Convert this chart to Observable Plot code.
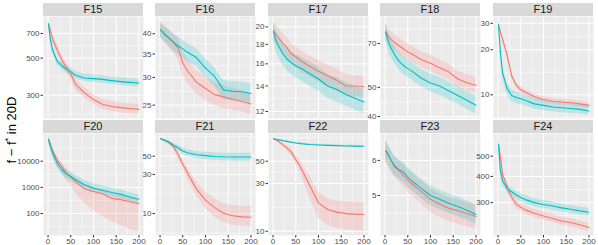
<!DOCTYPE html>
<html><head><meta charset="utf-8">
<script src="https://cdn.jsdelivr.net/npm/d3@7"></script>
<script src="https://cdn.jsdelivr.net/npm/@observablehq/plot@0.6"></script>
<style>
body{margin:0;background:#fff;}
#chart{position:relative;width:598px;height:245px;overflow:hidden;font-family:"Liberation Sans",Arial,sans-serif;background:#fff;}
.strip{position:absolute;background:#d9d9d9;color:#1a1a1a;font-size:11px;text-align:center;}
.ylab{position:absolute;left:11px;top:130px;transform:translate(-50%,-50%) rotate(-90deg);white-space:nowrap;font-size:13px;color:#000;}
.ylab sup{font-size:9px;}
svg{position:absolute;}
</style></head><body><div id="chart"><div class="ylab">f − f<sup>*</sup> in 20D</div></div>
<script>
const xs = [1,5,10,20,30,40,50,60,80,100,120,140,160,180,200];
const panelNames = ["F15","F16","F17","F18","F19","F20","F21","F22","F23","F24"];
const xTicks = [0,50,100,150,200];

const f15Ticks = [300,500,700], f15Domain = [218,885];
const f15Red   = [800,730,650,560,490,440,400,350,310,283,265,257,253,250,247];
const f15RedLo = [770,690,610,525,460,410,375,325,288,265,248,240,236,233,231];
const f15RedHi = [830,770,690,600,525,470,430,377,333,302,283,275,270,267,264];
const f15Cy    = [800,650,560,480,450,430,415,395,380,377,373,367,362,358,355];
const f15CyLo  = [770,615,530,455,428,408,395,376,362,358,354,349,344,340,336];
const f15CyHi  = [830,690,590,505,474,452,437,416,400,396,392,386,381,377,374];

const f16Ticks = [25,30,35,40], f16Domain = [22.9,44.8];
const f16Red   = [41.0,40.6,40.0,38.8,37.6,36.4,33.0,31.4,29.1,27.9,26.8,26.4,26.0,25.6,25.2];
const f16RedLo = [39.0,38.5,37.8,36.5,35.2,33.8,30.5,29.0,26.9,25.8,24.9,24.5,24.2,23.9,23.5];
const f16RedHi = [43.2,42.8,42.2,41.1,40.0,38.9,35.6,33.9,31.4,30.1,28.9,28.4,28.0,27.5,27.1];
const f16Cy    = [41.0,40.5,39.8,38.9,37.8,36.9,36.2,35.4,34.2,31.9,30.2,27.6,27.4,27.3,27.0];
const f16CyLo  = [39.2,38.6,37.8,36.8,35.7,34.8,34.1,33.3,32.2,30.0,28.4,25.9,25.7,25.6,25.3];
const f16CyHi  = [42.9,42.4,41.8,41.0,39.9,39.0,38.3,37.5,36.3,33.9,32.0,29.4,29.2,29.1,28.8];

const f17Ticks = [12,14,16,18,20], f17Domain = [11.5,21.3];
const f17Red   = [19.5,19.2,18.9,18.2,17.7,17.0,16.7,16.3,15.8,15.3,14.9,14.5,14.0,14.0,13.95];
const f17RedLo = [18.5,18.1,17.8,17.1,16.6,16.0,15.7,15.3,14.8,14.4,14.0,13.6,13.2,13.1,13.1];
const f17RedHi = [20.6,20.3,20.0,19.3,18.8,18.1,17.8,17.4,16.8,16.3,15.9,15.5,15.0,14.9,14.9];
const f17Cy    = [19.5,18.7,18.0,17.1,16.5,16.1,15.8,15.6,15.1,14.6,14.0,13.7,13.3,13.0,12.7];
const f17CyLo  = [18.4,17.5,16.8,16.0,15.4,15.0,14.7,14.5,14.0,13.6,13.0,12.7,12.4,12.1,11.8];
const f17CyHi  = [20.5,19.8,19.2,18.3,17.7,17.2,16.9,16.7,16.2,15.7,15.0,14.7,14.3,14.0,13.7];

const f18Ticks = [40,50,70], f18Domain = [39.4,86];
const f18Red   = [76.5,75,73,70.6,68.9,67.2,65.6,64.4,61.8,60.1,58.1,56.3,53.3,51.8,50.8];
const f18RedLo = [72,70.6,68.7,66.4,64.8,63.2,61.7,60.6,58.1,56.5,54.6,52.9,50.1,48.7,47.8];
const f18RedHi = [81.3,79.7,77.6,75.0,73.2,71.4,69.7,68.4,65.7,63.9,61.8,59.8,56.6,55.1,54.0];
const f18Cy    = [76.5,73,69,64.6,61.2,59.2,57.7,56.5,53.6,51.7,50.5,48.7,47.0,45.3,43.6];
const f18CyLo  = [71.5,68.2,64.5,60.4,57.2,55.3,53.9,52.8,50.1,48.3,47.2,45.5,43.9,42.3,40.7];
const f18CyHi  = [81.8,78.1,73.8,69.1,65.5,63.3,61.7,60.4,57.4,55.3,54.0,52.1,50.3,48.5,46.7];

const f19Ticks = [10,20,30], f19Domain = [6.95,33.3];
const f19Red   = [29.4,26.5,23.5,18.5,13.4,11.6,10.8,10.4,9.7,9.3,9.05,8.95,8.85,8.7,8.5];
const f19RedLo = [28.2,25.3,22.4,17.6,12.8,11.1,10.3,9.95,9.3,8.9,8.7,8.6,8.5,8.35,8.15];
const f19RedHi = [30.6,27.7,24.6,19.4,14.0,12.1,11.3,10.85,10.1,9.7,9.45,9.35,9.25,9.1,8.9];
const f19Cy    = [29.4,19.5,14,11,9.9,9.6,9.4,9.2,8.7,8.5,8.3,8.2,8.1,8.0,7.8];
const f19CyLo  = [28.0,18.2,12.9,10.0,9.0,8.8,8.6,8.45,8.0,7.85,7.7,7.6,7.5,7.45,7.3];
const f19CyHi  = [30.8,20.8,15.1,12.0,10.8,10.4,10.2,10.0,9.4,9.15,8.9,8.8,8.7,8.6,8.35];

const f20Ticks = [100,1000,10000], f20Domain = [14.5,114000];
const f20Red   = [67000,45000,25000,11000,6500,3500,2500,1700,870,700,560,380,340,280,235];
const f20RedLo = [50000,32000,16000,6500,3500,1800,1200,600,250,130,75,50,35,25,21];
const f20RedHi = [85000,60000,35000,15000,9000,5000,3500,2300,1300,1000,800,560,480,400,320];
const f20Cy    = [67000,40000,21000,8500,4800,3300,2600,2000,1250,930,780,640,540,430,350];
const f20CyLo  = [45000,27000,14000,5600,3200,2200,1750,1350,850,630,530,430,365,290,235];
const f20CyHi  = [100000,60000,31000,12500,7100,4900,3850,2950,1850,1380,1150,950,800,640,520];

const f21Ticks = [10,30,50], f21Domain = [5.4,94.6];
const f21Red   = [81.5,80,77.5,73,65,52,40,31.4,20,14.6,11.8,10.1,9.4,9.1,9.0];
const f21RedLo = [80,78,75,69.5,60,47,35.5,27,16.5,11.5,9.0,7.7,7.2,7.0,7.0];
const f21RedHi = [83,82,80,76.5,70,57,45,36.5,24.5,18.5,15.2,13.2,12.5,12.3,12.2];
const f21Cy    = [81.5,80,78,74,68,63,58,55,52,50.8,49.7,49.2,49.0,49.0,49.0];
const f21CyLo  = [80,78,75.5,70.5,63.5,58,53,50,47,45.5,44.5,44,43.8,43.8,43.8];
const f21CyHi  = [83,82,80.5,77.5,72,68,63.5,60,57,56,55,54.5,54.3,54.3,54.3];

const f22Ticks = [10,30,50], f22Domain = [9.06,94.6];
const f22Red   = [83.8,82.5,80,74,68,62,52,44,29,19.2,16.5,15.5,15.0,14.8,14.7];
const f22RedLo = [82,80.5,78,71,64,57,47,38,22,13.5,11.5,10.7,10.3,10.1,10.0];
const f22RedHi = [85.5,84.5,82,77,72,67,57,50,36,24.5,21,20,19.6,19.4,19.2];
const f22Cy    = [83.8,83,82.2,80.5,79,77.5,76,75,73.5,72.6,72,71.5,71,70.8,70.6];
const f22CyLo  = [82.5,81.7,80.9,79.2,77.7,76.2,74.7,73.7,72.2,71.3,70.7,70.2,69.7,69.5,69.3];
const f22CyHi  = [85.1,84.3,83.5,81.8,80.3,78.8,77.3,76.3,74.8,73.9,73.3,72.8,72.3,72.1,71.9];

const f23Ticks = [5,6], f23Domain = [4.06,6.9];
const f23Red   = [6.3,6.2,6.08,5.82,5.7,5.55,5.42,5.3,5.1,4.9,4.78,4.68,4.62,4.55,4.48];
const f23RedLo = [5.95,5.85,5.74,5.5,5.38,5.23,5.1,4.98,4.78,4.58,4.46,4.37,4.31,4.25,4.2];
const f23RedHi = [6.65,6.55,6.42,6.15,6.02,5.87,5.74,5.62,5.4,5.18,5.05,4.95,4.89,4.82,4.75];
const f23Cy    = [6.3,6.25,6.1,5.85,5.72,5.65,5.5,5.38,5.18,5.0,4.9,4.8,4.72,4.63,4.53];
const f23CyLo  = [5.98,5.93,5.79,5.55,5.43,5.36,5.22,5.11,4.92,4.75,4.65,4.56,4.48,4.4,4.3];
const f23CyHi  = [6.62,6.57,6.41,6.15,6.01,5.94,5.78,5.65,5.44,5.25,5.15,5.04,4.96,4.86,4.76];

const f24Ticks = [300,400,500], f24Domain = [209,641];
const f24Red   = [570,500,410,356,318,295,285,277,267,259,252,245,241,235,228];
const f24RedLo = [550,478,392,340,304,282,272,265,255,247,241,234,230,224,218];
const f24RedHi = [590,522,428,372,332,308,298,290,279,271,263,256,252,246,238];
const f24Cy    = [570,430,380,350,338,326,317,310,300,294,289,283,279,274,270];
const f24CyLo  = [550,412,363,335,323,312,303,296,287,281,276,271,267,262,258];
const f24CyHi  = [590,448,397,365,353,340,331,324,313,307,302,295,291,286,282];

const panels = [
  [f15Ticks,f15Domain,f15Red,f15RedLo,f15RedHi,f15Cy,f15CyLo,f15CyHi],
  [f16Ticks,f16Domain,f16Red,f16RedLo,f16RedHi,f16Cy,f16CyLo,f16CyHi],
  [f17Ticks,f17Domain,f17Red,f17RedLo,f17RedHi,f17Cy,f17CyLo,f17CyHi],
  [f18Ticks,f18Domain,f18Red,f18RedLo,f18RedHi,f18Cy,f18CyLo,f18CyHi],
  [f19Ticks,f19Domain,f19Red,f19RedLo,f19RedHi,f19Cy,f19CyLo,f19CyHi],
  [f20Ticks,f20Domain,f20Red,f20RedLo,f20RedHi,f20Cy,f20CyLo,f20CyHi],
  [f21Ticks,f21Domain,f21Red,f21RedLo,f21RedHi,f21Cy,f21CyLo,f21CyHi],
  [f22Ticks,f22Domain,f22Red,f22RedLo,f22RedHi,f22Cy,f22CyLo,f22CyHi],
  [f23Ticks,f23Domain,f23Red,f23RedLo,f23RedHi,f23Cy,f23CyLo,f23CyHi],
  [f24Ticks,f24Domain,f24Red,f24RedLo,f24RedHi,f24Cy,f24CyLo,f24CyHi]
];

const RED = "#F8766D", CYAN = "#00BFC4";
const panelLefts = [43, 155, 268, 380, 493];
const rowTops = [16, 133];
const PW = 100, PH = 102, STRIP = 13, ML = 40, MB = 12;

function minorBreaks(b, dom, isLog) {
  const f = isLog ? Math.log10 : d => d, inv = isLog ? d => Math.pow(10, d) : d => d;
  let t = b.map(f);
  const lo = f(dom[0]), hi = f(dom[1]);
  const bd = t[1] - t[0];
  if (lo < t[0]) t = [t[0] - bd, ...t];
  if (hi > t[t.length - 1]) t = [...t, t[t.length - 1] + bd];
  const out = [];
  for (let k = 0; k < t.length - 1; k++) out.push((t[k] + t[k + 1]) / 2);
  return out.filter(v => v > lo && v < hi).map(inv);
}

const chart = document.getElementById("chart");
const xDomain = [-10, 210];
const xMinor = minorBreaks(xTicks, xDomain, false);

panels.forEach((p, i) => {
  const [ticks, domain, red, redLo, redHi, cy, cyLo, cyHi] = p;
  const col = i % 5, row = Math.floor(i / 5);
  const left = panelLefts[col], top = rowTops[row];
  const strip = document.createElement("div");
  strip.className = "strip";
  Object.assign(strip.style, {left: left + "px", top: (top - STRIP) + "px", width: PW + "px", height: STRIP + "px", lineHeight: STRIP + "px"});
  strip.textContent = panelNames[i];
  chart.appendChild(strip);

  const rows = xs.map((x, j) => ({x, red: red[j], redLo: redLo[j], redHi: redHi[j], cy: cy[j], cyLo: cyLo[j], cyHi: cyHi[j]}));
  const yMinor = minorBreaks(ticks, domain, true);
  const mb = row === 1 ? MB : 0;
  const svg = Plot.plot({
    width: ML + PW, height: PH + mb,
    marginLeft: ML, marginRight: 0, marginTop: 0, marginBottom: mb,
    x: {domain: xDomain, axis: null, label: null},
    y: {type: "log", domain, axis: null, label: null},
    style: {background: "transparent", color: "#4d4d4d", fontFamily: "Liberation Sans, Arial, sans-serif", fontSize: "8px", overflow: "visible"},
    marks: [
      Plot.frame({fill: "#ebebeb", stroke: "none"}),
      Plot.ruleY(yMinor, {stroke: "white", strokeWidth: 0.5}),
      Plot.ruleX(xMinor, {stroke: "white", strokeWidth: 0.5}),
      Plot.ruleY(ticks, {stroke: "white", strokeWidth: 1}),
      Plot.ruleX(xTicks, {stroke: "white", strokeWidth: 1}),
      Plot.areaY(rows, {x: "x", y1: "redLo", y2: "redHi", fill: RED, fillOpacity: 0.2, clip: true}),
      Plot.areaY(rows, {x: "x", y1: "cyLo", y2: "cyHi", fill: CYAN, fillOpacity: 0.2, clip: true}),
      Plot.lineY(rows, {x: "x", y: "red", stroke: RED, strokeWidth: 1.1, clip: true}),
      Plot.lineY(rows, {x: "x", y: "cy", stroke: CYAN, strokeWidth: 1.1, clip: true}),
      Plot.axisY(ticks, {tickSize: 2.5, tickPadding: 1.5, fontSize: 8, stroke: "#333333", fill: "#4d4d4d", label: null, text: d => String(d)}),
      row === 1 ? Plot.axisX(xTicks, {tickSize: 2.5, tickPadding: 0.5, fontSize: 8, stroke: "#333333", fill: "#4d4d4d", label: null, text: d => String(d)}) : null
    ]
  });
  svg.style.left = (left - ML) + "px";
  svg.style.top = top + "px";
  chart.appendChild(svg);
});
</script></body></html>
